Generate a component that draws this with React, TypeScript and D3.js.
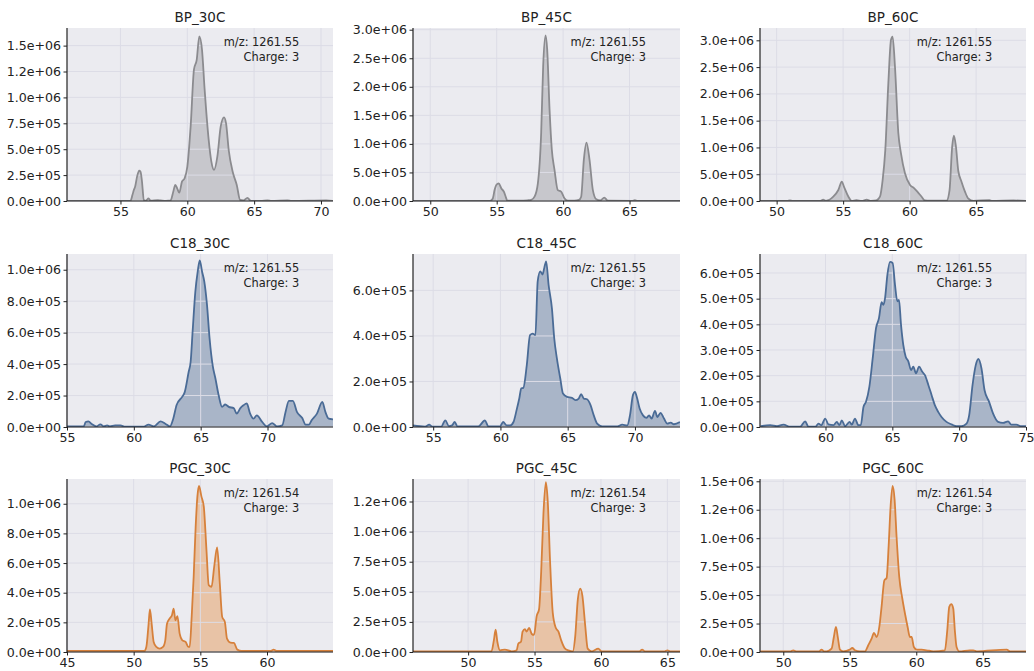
import React, { useEffect, useRef } from "react";
import * as d3 from "d3";

// retention time (min) vs intensity
const bp30 = [
  [51, 2000], [53, 2000], [55, 2000], [55.75, 3000], [55.9, 60000], [56.0, 106000], [56.1, 140000], [56.25, 240000],
  [56.4, 293000], [56.5, 283000], [56.6, 200000], [56.75, 10000], [56.9, 3000], [57.1, 25000], [57.25, 3000],
  [57.8, 8000], [58.0, 6000], [58.4, 2000], [58.75, 5000], [58.95, 90000], [59.1, 155000], [59.25, 120000],
  [59.4, 80000], [59.6, 187000], [59.8, 220000], [60.0, 330000], [60.25, 720000], [60.5, 1270000],
  [60.7, 1360000], [60.9, 1590000], [61.1, 1460000], [61.3, 1070000], [61.6, 590000], [61.8, 380000],
  [62.0, 300000], [62.25, 430000], [62.5, 720000], [62.75, 808000], [62.9, 750000], [63.1, 490000],
  [63.4, 280000], [63.7, 155000], [63.95, 10000], [64.2, 5000], [64.5, 30000], [64.75, 2000], [65.5, 2000],
  [66.0, 7000], [66.3, 2000], [67.5, 6000], [67.8, 2000], [70.4, 7000], [70.9, 2000],
];
const bp45 = [
  [48.7, 3000], [49.3, 2000], [54.5, 2000], [54.7, 40000], [54.85, 200000], [54.97, 280000], [55.15, 310000],
  [55.35, 220000], [55.55, 160000], [55.7, 60000], [55.8, 5000], [56.3, 8000], [56.8, 5000], [57.3, 12000],
  [57.6, 20000], [57.85, 76000], [58.1, 310000], [58.35, 1200000], [58.5, 2370000], [58.68, 2900000],
  [58.8, 2660000], [58.98, 1600000], [59.15, 900000], [59.35, 550000], [59.6, 190000], [59.85, 165000],
  [60.1, 47000], [60.35, 5000], [60.85, 5000], [61.2, 20000], [61.36, 76000], [61.56, 720000],
  [61.76, 1020000], [61.99, 720000], [62.24, 190000], [62.5, 30000], [62.8, 10000], [63.1, 60000],
  [63.37, 5000], [65.2, 3000], [65.4, 15000], [65.6, 3000], [68.8, 2000],
];
const bp60 = [
  [48.75, 3000], [50.8, 3000], [51.0, 12000], [51.2, 3000], [53.3, 3000], [53.5, 25000], [53.7, 3000],
  [54.26, 80000], [54.64, 206000], [54.9, 360000], [55.06, 270000], [55.4, 80000], [55.64, 3000],
  [56.0, 15000], [56.4, 3000], [56.77, 25000], [57.1, 3000], [57.5, 12000], [57.77, 80000], [57.97, 390000],
  [58.17, 950000], [58.4, 2200000], [58.6, 3010000], [58.72, 3070000], [58.9, 2500000], [59.15, 1270000],
  [59.35, 890000], [59.65, 520000], [60.03, 300000], [60.33, 240000], [60.58, 175000], [60.9, 80000],
  [61.15, 10000], [61.5, 5000], [62.78, 8000], [63.0, 200000], [63.2, 1020000], [63.33, 1220000],
  [63.48, 1020000], [63.66, 560000], [63.9, 360000], [64.16, 175000], [64.4, 50000], [64.8, 3000],
  [66.0, 15000], [66.2, 3000], [67.8, 10000], [68.75, 3000],
];
const c1830 = [
  [55, 4000], [56.25, 4000], [56.4, 32000], [56.6, 36000], [56.85, 19000], [57.2, 4000], [57.5, 17000],
  [57.75, 4000], [58.0, 10000], [58.2, 4000], [58.6, 10000], [59.0, 10000], [59.35, 2000], [60.7, 2000],
  [61.1, 15000], [61.5, 4000], [62.0, 36000], [62.35, 21000], [62.7, 4000], [62.95, 53000], [63.2, 140000],
  [63.6, 190000], [63.8, 220000], [64.1, 350000], [64.25, 415000], [64.4, 610000], [64.6, 860000],
  [64.78, 990000], [64.93, 1060000], [65.1, 990000], [65.27, 926000], [65.47, 780000], [65.67, 560000],
  [65.9, 390000], [66.1, 310000], [66.35, 200000], [66.6, 128000], [66.84, 143000], [67.1, 128000],
  [67.47, 120000], [67.7, 85000], [67.97, 120000], [68.2, 138000], [68.45, 150000], [68.7, 85000],
  [68.95, 53000], [69.2, 74000], [69.6, 32000], [69.96, 4000], [70.35, 25000], [70.7, 4000], [71.1, 10000],
  [71.35, 96000], [71.6, 166000], [71.9, 166000], [72.2, 96000], [72.6, 57000], [72.85, 15000],
  [73.1, 15000], [73.3, 43000], [73.7, 85000], [74.1, 160000], [74.33, 96000], [74.58, 53000], [74.9, 49000],
];
const c1845 = [
  [53.5, 7000], [54.4, 2000], [54.7, 10000], [54.93, 2000], [55.6, 2000], [55.9, 29000], [56.17, 4000],
  [56.4, 7000], [56.6, 22000], [56.8, 3000], [58.36, 3000], [58.85, 29000], [59.1, 3000], [59.97, 3000],
  [60.2, 22000], [60.47, 7000], [60.72, 7000], [60.97, 22000], [61.2, 74000], [61.4, 125000], [61.55, 170000],
  [61.7, 172000], [61.96, 272000], [62.2, 404000], [62.4, 410000], [62.6, 404000], [62.77, 640000],
  [62.96, 684000], [63.13, 670000], [63.26, 699000], [63.4, 728000], [63.58, 625000], [63.83, 520000],
  [64.0, 390000], [64.2, 300000], [64.45, 213000], [64.65, 147000], [64.95, 132000], [65.32, 128000],
  [65.57, 118000], [65.82, 125000], [66.0, 144000], [66.2, 125000], [66.44, 122000], [66.7, 96000],
  [66.94, 51000], [67.19, 15000], [67.56, 3000], [68.7, 3000], [69.05, 10000], [69.43, 7000], [69.63, 51000],
  [69.85, 140000], [70.0, 154000], [70.17, 125000], [70.35, 81000], [70.6, 51000], [70.85, 40000],
  [71.05, 51000], [71.24, 37000], [71.49, 71000], [71.67, 44000], [71.9, 62000], [72.16, 37000],
  [72.4, 15000], [72.66, 19000], [72.9, 12000], [73.35, 22000],
];
const c1860 = [
  [55.15, 3000], [55.87, 7000], [56.37, 3000], [56.86, 9000], [57.36, 1000], [58.1, 1000], [58.48, 22000],
  [58.73, 1000], [59.23, 1000], [59.48, 13000], [59.68, 7000], [59.98, 33000], [60.22, 10000], [60.6, 7000],
  [60.85, 20000], [61.04, 7000], [61.22, 26000], [61.47, 3000], [61.8, 20000], [61.97, 9000], [62.2, 33000],
  [62.46, 7000], [62.64, 7000], [62.84, 78000], [63.03, 98000], [63.28, 156000], [63.53, 267000],
  [63.78, 385000], [64.0, 424000], [64.2, 486000], [64.33, 476000], [64.45, 500000], [64.63, 593000],
  [64.83, 643000], [65.02, 639000], [65.2, 554000], [65.37, 490000], [65.5, 495000], [65.65, 398000],
  [65.82, 320000], [66.0, 274000], [66.19, 257000], [66.4, 222000], [66.57, 235000], [66.77, 209000],
  [67.0, 235000], [67.24, 215000], [67.44, 202000], [67.7, 163000], [67.94, 124000], [68.18, 85000],
  [68.43, 59000], [68.68, 39000], [69.05, 20000], [69.43, 10000], [69.8, 3000], [70.17, 3000], [70.55, 13000],
  [70.75, 46000], [71.0, 163000], [71.24, 241000], [71.44, 265000], [71.67, 228000], [71.9, 143000],
  [72.24, 98000], [72.54, 52000], [72.91, 20000], [73.28, 16000], [73.66, 22000], [73.9, 9000],
  [74.28, 9000], [74.65, 3000], [75.0, 3000],
];
const pgc30 = [
  [45, 7000], [48, 7000], [50.8, 7000], [50.95, 34000], [51.12, 190000], [51.22, 287000], [51.35, 190000],
  [51.5, 68000], [51.7, 34000], [51.95, 23000], [52.2, 34000], [52.37, 79000], [52.5, 190000], [52.7, 226000],
  [52.87, 248000], [53.0, 293000], [53.13, 214000], [53.28, 241000], [53.45, 124000], [53.65, 79000],
  [53.9, 68000], [54.1, 34000], [54.2, 34000], [54.35, 237000], [54.5, 508000], [54.65, 846000],
  [54.78, 1050000], [54.9, 1120000], [55.08, 1050000], [55.26, 980000], [55.46, 688000], [55.63, 451000],
  [55.84, 440000], [56.04, 576000], [56.26, 706000], [56.46, 463000], [56.64, 237000], [56.84, 203000],
  [57.0, 90000], [57.26, 63000], [57.52, 61000], [57.77, 16000], [58.1, 7000], [60.3, 7000], [60.5, 16000],
  [60.7, 7000], [64.95, 7000],
];
const pgc45 = [
  [45.85, 6000], [51.76, 6000], [51.94, 99000], [52.07, 185000], [52.2, 85000], [52.4, 14000], [52.77, 20000],
  [53.27, 6000], [53.65, 14000], [53.78, 71000], [53.98, 85000], [54.1, 170000], [54.28, 190000],
  [54.4, 170000], [54.6, 200000], [54.79, 150000], [54.96, 142000], [55.16, 298000], [55.34, 355000],
  [55.5, 668000], [55.67, 1150000], [55.85, 1410000], [56.0, 1240000], [56.17, 750000], [56.37, 327000],
  [56.6, 200000], [56.8, 170000], [57.0, 99000], [57.3, 28000], [57.55, 14000], [57.88, 6000],
  [58.06, 128000], [58.26, 440000], [58.44, 526000], [58.6, 469000], [58.82, 213000], [59.0, 28000],
  [59.3, 6000], [59.8, 28000], [60.05, 6000], [62.9, 6000], [63.1, 20000], [63.3, 6000], [64.8, 6000],
  [65.0, 14000], [65.2, 6000], [65.95, 6000],
];
const pgc60 = [
  [48.27, 6000], [50.55, 6000], [50.75, 15000], [50.95, 6000], [52.7, 6000], [52.88, 21000], [53.06, 6000],
  [53.26, 6000], [53.63, 29000], [53.8, 130000], [53.96, 220000], [54.1, 130000], [54.26, 21000], [54.5, 6000],
  [55.0, 21000], [55.19, 35000], [55.39, 15000], [55.76, 6000], [56.14, 6000], [56.39, 59000],
  [56.64, 118000], [56.82, 168000], [57.02, 132000], [57.22, 220000], [57.39, 397000], [57.6, 630000],
  [57.77, 650000], [57.92, 926000], [58.07, 1280000], [58.22, 1460000], [58.37, 1340000], [58.52, 1010000],
  [58.72, 660000], [58.95, 470000], [59.15, 338000], [59.35, 220000], [59.52, 132000], [59.65, 132000],
  [59.82, 44000], [60.03, 21000], [60.4, 21000], [60.78, 15000], [61.28, 6000], [62.15, 15000],
  [62.33, 190000], [62.48, 397000], [62.63, 420000], [62.78, 382000], [62.9, 190000], [63.03, 44000],
  [63.23, 6000], [64.03, 15000], [64.29, 15000], [64.54, 6000], [66.8, 21000], [67.05, 6000], [68.25, 6000],
];

const titles = ["BP_30C", "BP_45C", "BP_60C", "C18_30C", "C18_45C", "C18_60C", "PGC_30C", "PGC_45C", "PGC_60C"];
const mzLabels = ["m/z: 1261.55", "m/z: 1261.55", "m/z: 1261.55", "m/z: 1261.55", "m/z: 1261.55", "m/z: 1261.55",
  "m/z: 1261.54", "m/z: 1261.54", "m/z: 1261.54"];
const chargeLabel = "Charge: 3";
const seriesList = [bp30, bp45, bp60, c1830, c1845, c1860, pgc30, pgc45, pgc60];
const xDomains = [[51, 70.9], [48.7, 68.8], [48.75, 68.75], [55, 74.9], [53.5, 73.35], [55.1, 75], [45, 64.95], [45.85, 65.95], [48.25, 68.25]];
const yMax = [1.67e6, 3.03e6, 3.23e6, 1.1e6, 7.6e5, 6.74e5, 1.167e6, 1.437e6, 1.52e6];
const xTicks = [[55, 60, 65, 70], [50, 55, 60, 65], [50, 55, 60, 65], [55, 60, 65, 70], [55, 60, 65, 70], [60, 65, 70, 75], [45, 50, 55, 60], [50, 55, 60, 65], [50, 55, 60, 65]];
const yTicks = [
  [0, 2.5e5, 5e5, 7.5e5, 1e6, 1.25e6, 1.5e6],
  [0, 5e5, 1e6, 1.5e6, 2e6, 2.5e6, 3e6],
  [0, 5e5, 1e6, 1.5e6, 2e6, 2.5e6, 3e6],
  [0, 2e5, 4e5, 6e5, 8e5, 1e6],
  [0, 2e5, 4e5, 6e5],
  [0, 1e5, 2e5, 3e5, 4e5, 5e5, 6e5],
  [0, 2e5, 4e5, 6e5, 8e5, 1e6],
  [0, 2.5e5, 5e5, 7.5e5, 1e6, 1.25e6],
  [0, 2.5e5, 5e5, 7.5e5, 1e6, 1.25e6, 1.5e6],
];
const yTickLabels = [
  ["0.0e+00", "2.5e+05", "5.0e+05", "7.5e+05", "1.0e+06", "1.2e+06", "1.5e+06"],
  ["0.0e+00", "5.0e+05", "1.0e+06", "1.5e+06", "2.0e+06", "2.5e+06", "3.0e+06"],
  ["0.0e+00", "5.0e+05", "1.0e+06", "1.5e+06", "2.0e+06", "2.5e+06", "3.0e+06"],
  ["0.0e+00", "2.0e+05", "4.0e+05", "6.0e+05", "8.0e+05", "1.0e+06"],
  ["0.0e+00", "2.0e+05", "4.0e+05", "6.0e+05"],
  ["0.0e+00", "1.0e+05", "2.0e+05", "3.0e+05", "4.0e+05", "5.0e+05", "6.0e+05"],
  ["0.0e+00", "2.0e+05", "4.0e+05", "6.0e+05", "8.0e+05", "1.0e+06"],
  ["0.0e+00", "2.5e+05", "5.0e+05", "7.5e+05", "1.0e+06", "1.2e+06"],
  ["0.0e+00", "2.5e+05", "5.0e+05", "7.5e+05", "1.0e+06", "1.2e+06", "1.5e+06"],
];
const lineColors = ["#8b8b8f", "#4a6b96", "#d6803b"];
const fillColors = ["#c7c7cc", "#a9b5c8", "#e8c3a6"];

const colLeft = [67, 413, 760];
const colRight = [333, 680, 1026];
const rowTop = [28, 254, 479];
const plotH = 173;
const font = "DejaVu Sans, sans-serif";

export default function App() {
  const svgRef = useRef<SVGSVGElement>(null);

  useEffect(() => {
    const svg = d3.select(svgRef.current);
    svg.selectAll("*").remove();

    seriesList.forEach((data, i) => {
      const row = Math.floor(i / 3);
      const col = i % 3;
      const x0 = colLeft[col];
      const x1 = colRight[col];
      const y0 = rowTop[row];
      const w = x1 - x0;

      const x = d3.scaleLinear().domain(xDomains[i]).range([0, w]);
      const y = d3.scaleLinear().domain([0, yMax[i]]).range([plotH, 0]);

      const g = svg.append("g").attr("transform", `translate(${x0},${y0})`);
      g.append("rect").attr("width", w).attr("height", plotH).attr("fill", "#ebebf0");

      const clipId = `clip${i}`;
      g.append("clipPath").attr("id", clipId).append("rect").attr("width", w).attr("height", plotH);

      const area = d3.area<number[]>()
        .x((d) => x(d[0]))
        .y0(y(0))
        .y1((d) => y(d[1]))
        .curve(d3.curveMonotoneX);
      const line = d3.line<number[]>()
        .x((d) => x(d[0]))
        .y((d) => y(d[1]))
        .curve(d3.curveMonotoneX);

      g.append("path").datum(data).attr("d", area).attr("fill", fillColors[row])
        .attr("clip-path", `url(#${clipId})`);

      // grid over the fill
      g.append("g").selectAll("line").data(xTicks[i]).join("line")
        .attr("x1", (d) => x(d)).attr("x2", (d) => x(d)).attr("y1", 0).attr("y2", plotH)
        .attr("stroke", "#dcdce6").attr("stroke-width", 1);
      g.append("g").selectAll("line").data(yTicks[i]).join("line")
        .attr("x1", 0).attr("x2", w).attr("y1", (d) => y(d)).attr("y2", (d) => y(d))
        .attr("stroke", "#dcdce6").attr("stroke-width", 1);

      g.append("path").datum(data).attr("d", line).attr("fill", "none")
        .attr("stroke", lineColors[row]).attr("stroke-width", 1.8)
        .attr("stroke-linejoin", "round").attr("clip-path", `url(#${clipId})`);

      // axes
      const xAxis = g.append("g").attr("transform", `translate(0,${plotH})`)
        .call(d3.axisBottom(x).tickValues(xTicks[i]).tickSize(3.5).tickPadding(3).tickFormat((d) => String(d)));
      const yAxis = g.append("g")
        .call(d3.axisLeft(y).tickValues(yTicks[i]).tickSize(3.5).tickPadding(2.5)
          .tickFormat((_, k) => yTickLabels[i][k]));
      [xAxis, yAxis].forEach((a) => {
        a.select(".domain").attr("stroke", "#222").attr("stroke-width", 1.2);
        a.selectAll(".tick line").attr("stroke", "#222").attr("stroke-width", 1);
        a.selectAll("text").attr("fill", "#222").style("font-family", font).style("font-size", "12.6px");
      });
      yAxis.selectAll(".domain").attr("d", `M0,${plotH}V0`);
      xAxis.selectAll(".domain").attr("d", `M0,0H${w}`);

      g.append("text").attr("x", w / 2).attr("y", -6).attr("text-anchor", "middle")
        .style("font-family", font).style("font-size", "13.5px").attr("fill", "#222").text(titles[i]);

      const ax = w * 0.873;
      g.append("text").attr("x", ax).attr("y", 18).attr("text-anchor", "end")
        .style("font-family", font).style("font-size", "11.4px").attr("fill", "#222").text(mzLabels[i]);
      g.append("text").attr("x", ax).attr("y", 33).attr("text-anchor", "end")
        .style("font-family", font).style("font-size", "11.4px").attr("fill", "#222").text(chargeLabel);
    });
  }, []);

  return (
    <svg ref={svgRef} width={1034} height={671}
      style={{ position: "absolute", left: 0, top: 0, background: "#fff" }} />
  );
}
